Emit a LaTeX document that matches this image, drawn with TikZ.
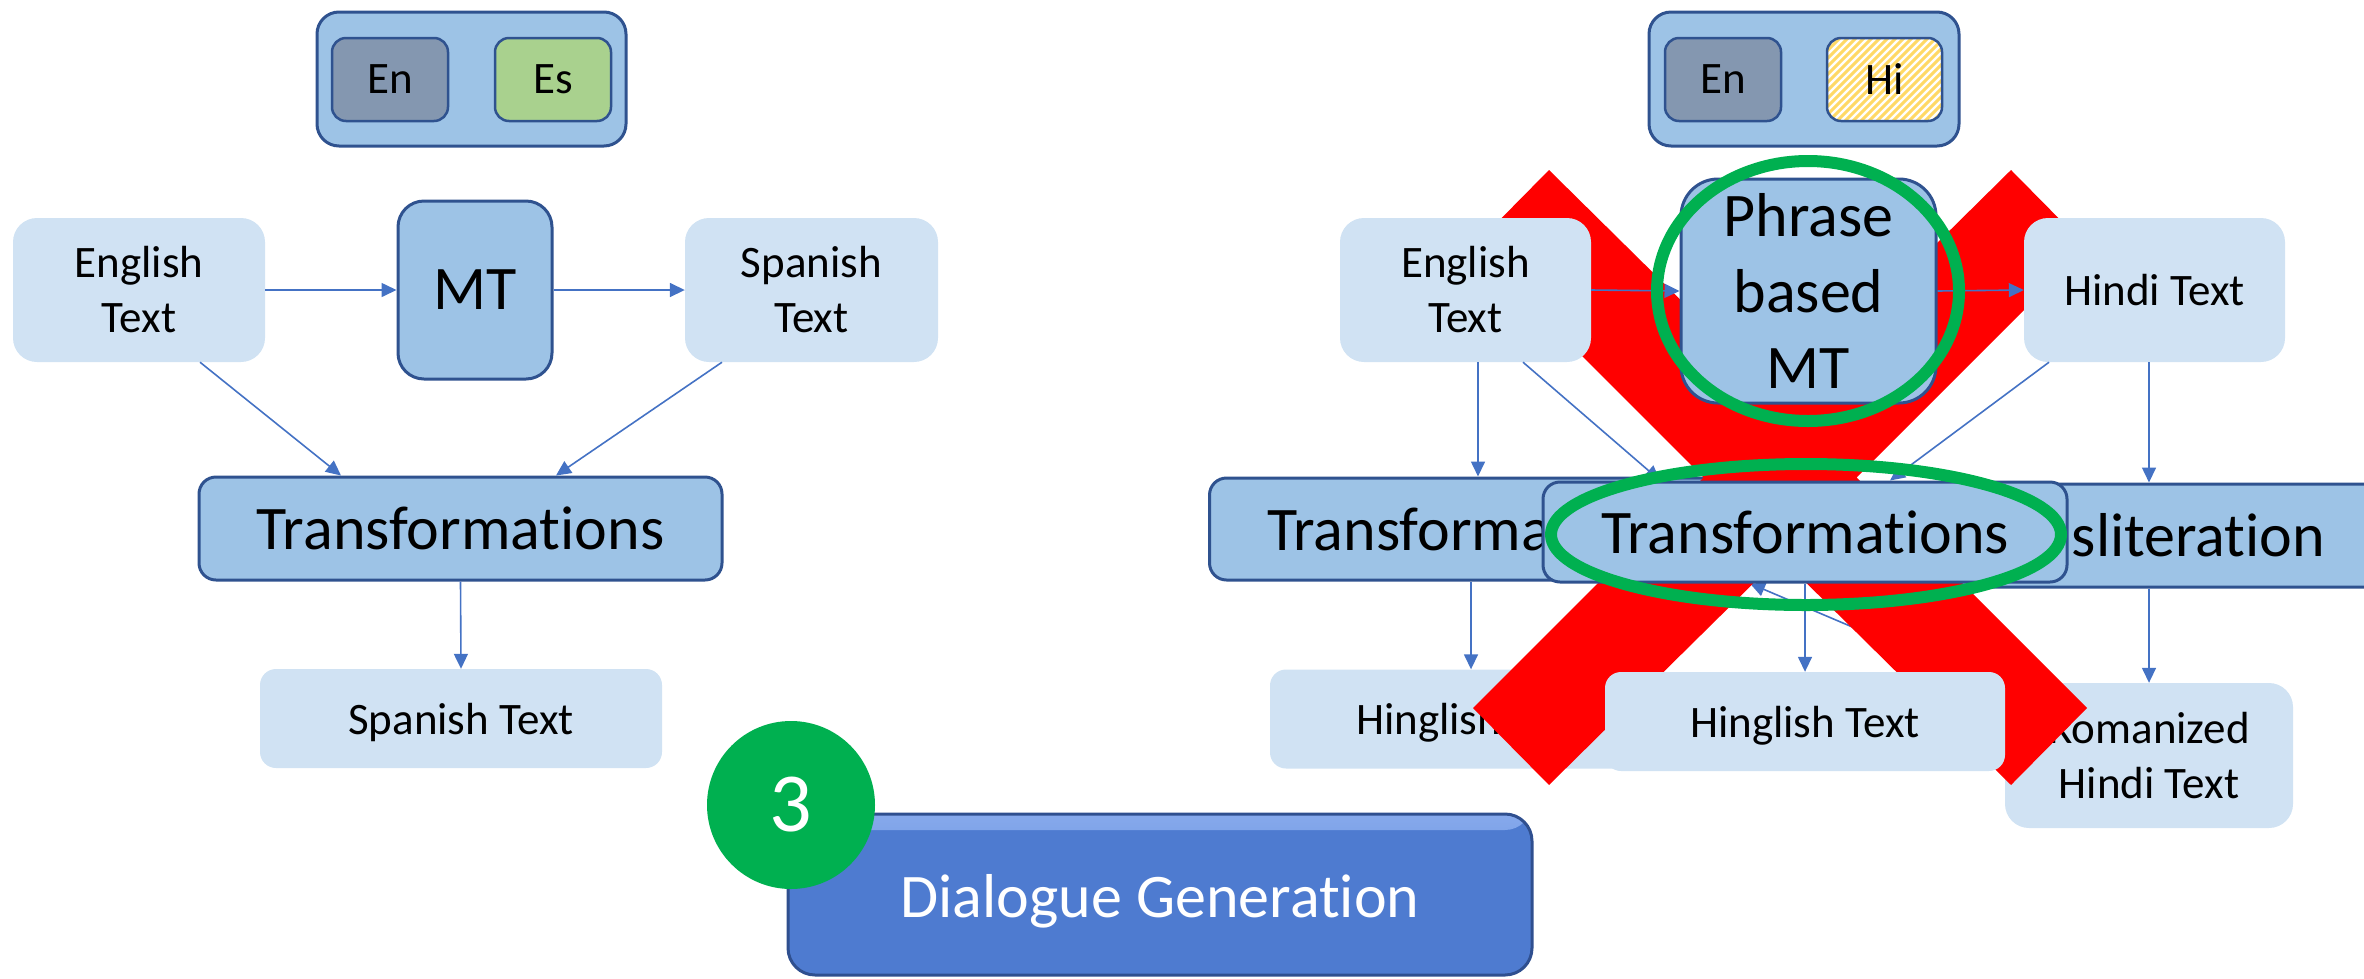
\documentclass[tikz,border=0pt]{standalone}
\usepackage{fontspec}
\setmainfont[RawFeature={-liga;-clig;-calt;-dlig;-hlig}]{Carlito}
\usetikzlibrary{arrows.meta,calc}
\definecolor{lightb}{HTML}{D0E2F3}
\definecolor{medb}{HTML}{9DC3E6}
\definecolor{bord}{HTML}{2F528F}
\definecolor{arr}{HTML}{4472C4}
\definecolor{enc}{HTML}{8497B0}
\definecolor{esc}{HTML}{A9D18E}
\definecolor{hic}{HTML}{FFD966}
\definecolor{grn}{HTML}{00B050}
\definecolor{dgc}{HTML}{4E7BD0}
\definecolor{dgl}{HTML}{86A9EC}
\definecolor{dgb}{HTML}{2F4F8F}
\definecolor{xred}{HTML}{FF0000}
\pgfdeclarelayer{bg}
\pgfsetlayers{bg,main}
\newcommand{\dn}[2]{\raisebox{-#1}[\height][\depth]{#2}}
\begin{document}
\begin{tikzpicture}[x=1pt,y=-1pt,
  box/.style={rectangle, inner sep=0pt, align=center},
  lbox/.style={box, fill=lightb},
  mbox/.style={box, fill=medb, draw=bord, line width=3pt},
  tagbox/.style={box, draw=bord, line width=2.5pt, minimum width=116pt, minimum height=83pt, rounded corners=14pt, fs},
  fs/.style={font=\fontsize{45}{55}\selectfont},
  fl/.style={font=\fontsize{62}{76}\selectfont},
  con/.style={draw=arr, line width=1.6pt, -{Triangle[length=15pt,width=14pt]}},
  ring/.style={draw=grn, line width=12pt},
]
\useasboundingbox (0,0) rectangle (2364,978);

% ---------------- left diagram ----------------
\node[mbox, minimum width=309pt, minimum height=134pt, rounded corners=22pt] (legL) at (471.5,79) {};
\node[tagbox, fill=enc] (enL) at (390,79.5) {En};
\node[tagbox, fill=esc] (esL) at (553,79.5) {Es};

\node[lbox, fs, minimum width=252pt, minimum height=144pt, rounded corners=24pt] (engL) at (139,290) {English\\Text};
\node[mbox, fl, minimum width=154pt, minimum height=178pt, rounded corners=26pt] (mtL) at (475,290) {MT};
\node[lbox, fs, minimum width=253pt, minimum height=144pt, rounded corners=24pt] (spaL) at (811.5,290) {Spanish\\Text};
\node[mbox, fl, minimum width=523pt, minimum height=103pt, rounded corners=17pt] (trL) at (460.5,528.5) {Transformations};
\node[lbox, fs, minimum width=402pt, minimum height=99pt, rounded corners=16pt] (spbL) at (461,718.5) {\dn{4pt}{Spanish Text}};

\draw[con] (engL.east) -- (mtL.west);
\draw[con] (mtL.east) -- (spaL.west);
\draw[con] ($(engL.south)+(61,0)$) -- ($(trL.north)+(-119.5,0)$);
\draw[con] ($(spaL.south)+(-89.5,0)$) -- ($(trL.north)+(95.5,0)$);
\draw[con] (trL.south) -- (spbL.north);

% ---------------- dialogue generation ----------------
\node[box, fl, fill=dgc, draw=dgb, line width=3pt, minimum width=744pt, minimum height=161pt, rounded corners=27pt, text=white,
  path picture={\shade[top color=dgl, bottom color=dgc] (path picture bounding box.north west) rectangle ($(path picture bounding box.north east)+(0pt,-16pt)$);}]
  (dg) at (1160,894.5) {\dn{7pt}{Dialogue Generation}};
\node[circle, fill=grn, minimum size=168pt, inner sep=0pt, text=white, font=\fontsize{84}{100}\selectfont] (num) at (791,805) {3};

% ---------------- right diagram ----------------
\node[mbox, minimum width=310pt, minimum height=134pt, rounded corners=22pt] (legR) at (1804,79) {};
\node[tagbox, fill=enc] (enR) at (1723,79.5) {En};
\node[tagbox, fill=white, minimum width=115pt,
  path picture={\foreach \k in {-110,-102,...,130}{\draw[hic, line width=3pt] ($(path picture bounding box.south west)+(\k pt,0pt)$) -- ++(120pt,120pt);}}]
  (hiR) at (1884.5,79.5) {Hi};

% front layer boxes
\node[lbox, fs, minimum width=251pt, minimum height=144pt, rounded corners=24pt] (engR) at (1465.5,290) {English\\Text};
\node[mbox, fl, minimum width=255pt, minimum height=224pt, rounded corners=37pt] (pmt) at (1808.5,291) {Phrase\\based\\MT};
\node[lbox, fs, minimum width=261pt, minimum height=144pt, rounded corners=24pt] (hinR) at (2154.5,290) {Hindi Text};
\node[mbox, fl, minimum width=524pt, minimum height=100pt, rounded corners=17pt] (trF) at (1805,532) {Transformations};
\node[lbox, fs, minimum width=400pt, minimum height=99pt, rounded corners=16pt] (hgF) at (1805,721.5) {\dn{4pt}{Hinglish Text}};

% back layer
\begin{pgfonlayer}{bg}
\node[mbox, fl, minimum width=523pt, minimum height=102pt, rounded corners=17pt] (trB) at (1471,529) {Transformations};
\node[lbox, fs, minimum width=402pt, minimum height=99pt, rounded corners=16pt] (hgB) at (1471,719) {\dn{4pt}{Hinglish Text}};
\node[mbox, fl, minimum width=523pt, minimum height=103pt, rounded corners=17pt] (tlit) at (2144,535.5) {Transliteration};
\node[lbox, fs, minimum width=288pt, minimum height=145pt, rounded corners=24pt] (rom) at (2149,755.5) {Romanized\\Hindi Text};
\draw[con] (trB.south) -- (hgB.north);
\draw[con] ($(tlit.south)+(5,0)$) -- (rom.north);
\draw[con] ($(rom.north west)+(0,9)$) -- ($(trF.south)+(-55,0)$);
% red cross
\fill[xred] (1473,247) -- (1549,170) -- (1780,398) -- (2011,170) -- (2087,247) -- (1856.5,477.5)
  -- (2087,708) -- (2011,785) -- (1780,557) -- (1549,785) -- (1473,708) -- (1703.5,477.5) -- cycle;
\end{pgfonlayer}

\draw[con] (engR.east) -- (pmt.west);
\draw[con] (pmt.east) -- (hinR.west);
\draw[con] ($(engR.south)+(12.5,0)$) -- ($(trB.north)+(7,0)$);
\draw[con] ($(engR.south)+(57.5,0)$) -- ($(trF.north)+(-145,0)$);
\draw[con] ($(hinR.south)+(-105.5,0)$) -- ($(trF.north)+(85,0)$);
\draw[con] ($(hinR.south)+(-5.5,0)$) -- ($(tlit.north)+(5,0)$);
\draw[con] (trF.south) -- (hgF.north);

% green rings
\draw[ring] (1808,291) ellipse [x radius=151pt, y radius=130pt];
\draw[ring] (1806,534.5) ellipse [x radius=255pt, y radius=70.5pt];
\end{tikzpicture}
\end{document}
